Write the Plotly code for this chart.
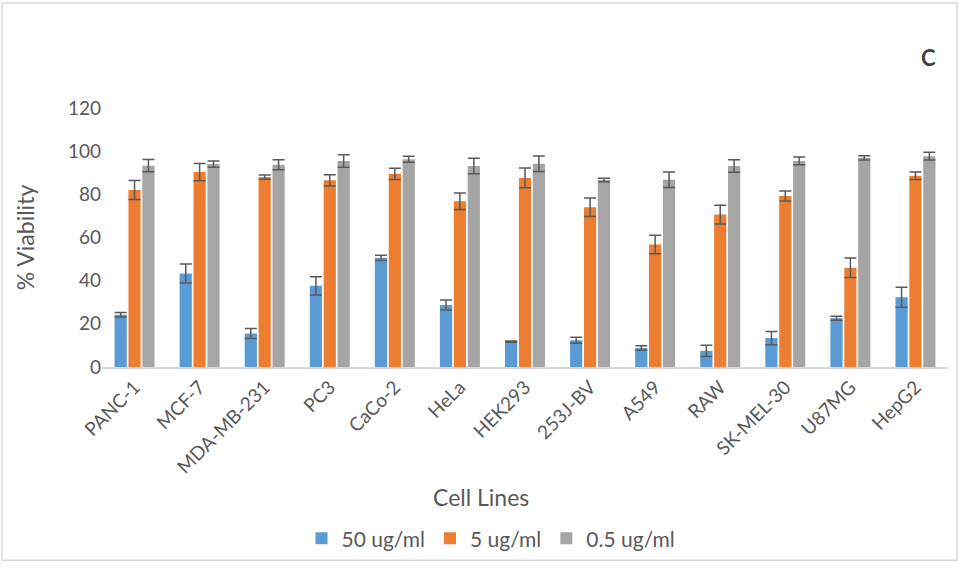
import plotly.graph_objects as go

cell_lines = ["PANC-1", "MCF-7", "MDA-MB-231", "PC3", "CaCo-2", "HeLa", "HEK293",
              "253J-BV", "A549", "RAW", "SK-MEL-30", "U87MG", "HepG2"]
series_names = ["50 ug/ml", "5 ug/ml", "0.5 ug/ml"]

v50 = [24.2, 43.3, 15.5, 37.6, 50.6, 28.7, 11.8, 12.4, 8.8, 7.5, 13.4, 22.6, 32.3]
e50 = [1.0, 4.4, 2.3, 4.2, 1.2, 2.3, 0.3, 1.4, 1.0, 2.6, 3.1, 0.9, 4.6]

v5 = [82.0, 90.3, 88.0, 86.5, 89.5, 76.8, 87.6, 74.0, 56.8, 70.6, 79.2, 46.0, 88.6]
e5 = [4.4, 4.0, 1.0, 2.6, 2.6, 3.8, 4.6, 4.3, 4.3, 4.3, 2.3, 4.5, 1.7]

v05 = [93.3, 94.0, 93.7, 95.4, 96.3, 93.1, 94.2, 86.6, 86.8, 93.1, 95.5, 96.9, 97.7]
e05 = [2.8, 1.5, 2.3, 2.9, 1.4, 3.6, 3.6, 0.8, 3.6, 2.9, 1.8, 1.0, 1.8]

colors = ["#5B9BD5", "#ED7D31", "#A5A5A5"]
y_ticks = [0, 20, 40, 60, 80, 100, 120]

FONT = "Lato"
TXT = "#595959"

fig = go.Figure()
for name, vals, errs, col in zip(series_names, [v50, v5, v05], [e50, e5, e05], colors):
    fig.add_trace(go.Bar(
        x=cell_lines, y=vals, name=name,
        marker=dict(color=col, line=dict(width=0)),
        error_y=dict(type="data", array=errs, visible=True,
                     color="#595959", thickness=1.5, width=6),
    ))

W, H = 960, 572
ml, mr, mt, mb = 102, 12, 108, 200
pw, ph = W - ml - mr, H - mt - mb

def px_x(px):
    return (px - ml) / pw

def px_y(py):
    return 1 - (py - mt) / ph

fig.update_layout(
    width=W, height=H,
    margin=dict(l=ml, r=mr, t=mt, b=mb),
    paper_bgcolor="white", plot_bgcolor="white",
    barmode="group", bargap=0.36, bargroupgap=0.12,
    font=dict(family=FONT, color=TXT, size=17),
    showlegend=True,
    legend=dict(orientation="h", x=px_x(491), xanchor="center",
                y=px_y(547), yanchor="middle",
                font=dict(size=21, color=TXT), itemwidth=30,
                traceorder="normal"),
    xaxis=dict(
        tickangle=-45, tickfont=dict(size=19, color=TXT),
        showline=True, linecolor="#D9D9D9", linewidth=1.5,
        showgrid=False, ticks="", automargin=False,
    ),
    yaxis=dict(
        title=dict(text="% Viability", font=dict(size=23, color=TXT), standoff=26),
        range=[0, 120], tickvals=y_ticks, tickfont=dict(size=19, color=TXT),
        showgrid=False, zeroline=False, showline=False, ticks="",
        automargin=False,
    ),
    annotations=[
        dict(text="<b>C</b>", xref="paper", yref="paper",
             x=px_x(928), y=px_y(57), xanchor="center", yanchor="middle",
             showarrow=False, font=dict(size=22, color="#404040", family=FONT)),
        dict(text="Cell Lines", xref="paper", yref="paper",
             x=px_x(481), y=px_y(505), xanchor="center", yanchor="middle",
             showarrow=False, font=dict(size=23, color=TXT, family=FONT)),
    ],
    shapes=[
        dict(type="rect", xref="paper", yref="paper",
             x0=px_x(2), x1=px_x(957), y0=px_y(569), y1=px_y(1),
             line=dict(color="#D9D9D9", width=1.5), fillcolor="rgba(0,0,0,0)"),
    ],
)

post = (
    "document.documentElement.style.margin='0';"
    "document.documentElement.style.overflow='hidden';"
    "document.body.style.margin='0';document.body.style.padding='0';"
    "document.body.style.overflow='hidden';"
    "var g=document.getElementById('{plot_id}');g.style.display='block';"
    "if(g.parentElement){g.parentElement.style.lineHeight='0';}"
)
fig.write_html("out.html", config={"displayModeBar": False}, post_script=post)
